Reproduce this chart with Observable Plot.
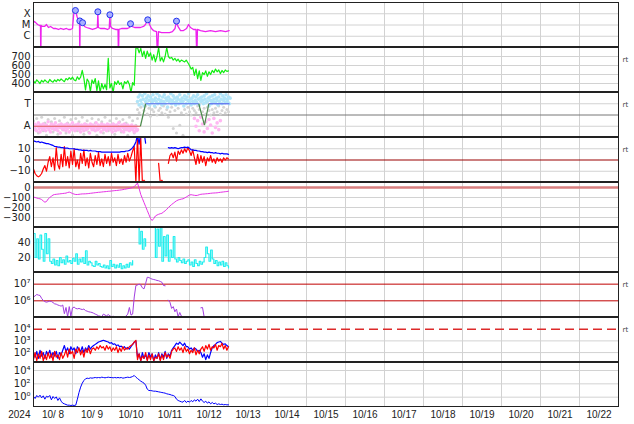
<!DOCTYPE html>
<html><head><meta charset="utf-8">
<script src="https://cdn.jsdelivr.net/npm/d3@7"></script>
<script src="https://cdn.jsdelivr.net/npm/@observablehq/plot@0.6"></script>
<style>
html,body{margin:0;padding:0;background:#fff;overflow:hidden;}
#chart svg{display:block;}
</style>
</head><body><div id="chart"></div>
<script>
// ---------- time axis ----------
const dateLabels = ["10/ 8","10/ 9","10/10","10/11","10/12","10/13","10/14","10/15","10/16","10/17","10/18","10/19","10/20","10/21","10/22"];
const yearLabel = "2024";

// ---------- panel 1: X-ray flux [hour since 10/8 00UT, W/m2] ----------
const xrayClassLevels = [1e-6, 1e-5, 1e-4];
const xrayClassNames = ["C", "M", "X"];
const xray = [[0,2.2e-5],[1.2,1.7e-5],[2.5,1.1e-5],[3.7,9e-6],[4.3,9e-6],[4.5,1e-8],[4.7,9e-6],[5.5,7.4e-6],[6.8,7.4e-6],[8,1.1e-5],[9.2,6e-6],[10.5,7.4e-6],[12.3,4.9e-6],[13.5,4.9e-6],[15.4,4e-6],[16.6,4.9e-6],[18.5,4e-6],[20.3,4.9e-6],[21.5,4e-6],[22.8,4e-6],[24,4.9e-6],[24.9,1.6e-4],[25.8,1.95e-4],[26.8,5.7e-5],[27.7,2.5e-5],[28.3,2e-5],[28.5,1e-8],[28.7,2e-5],[29.5,1.7e-5],[30.5,1.1e-5],[31.4,7.4e-6],[32.6,6e-6],[34.5,4.9e-6],[36.3,4e-6],[38.2,4.9e-6],[39.3,6e-6],[39.6,1.5e-4],[39.9,6e-6],[41.2,4.9e-6],[43.7,4.9e-6],[45.5,4e-6],[46.6,4.9e-6],[47,8.1e-5],[47.4,7.4e-6],[48.6,4.9e-6],[50.5,4e-6],[52,4e-6],[52.3,1e-8],[52.6,4e-6],[54.2,4.9e-6],[56,4.9e-6],[57.8,4.9e-6],[59.1,6e-6],[59.7,1.3e-5],[60.6,7.4e-6],[62.2,6e-6],[64,6e-6],[65.8,6e-6],[67.7,7.4e-6],[68.9,1.1e-5],[70.3,2.9e-5],[71.4,1.1e-5],[72.6,4.9e-6],[73.8,3.2e-6],[75.7,2.6e-6],[76.3,1e-8],[76.9,2.6e-6],[78.8,2.1e-6],[81.2,2.1e-6],[83.7,2.1e-6],[85.5,2.6e-6],[87.1,4.9e-6],[88,2.2e-5],[88.9,7.4e-6],[90.5,3.2e-6],[92.3,3.2e-6],[94.2,4.9e-6],[95.4,1.1e-5],[96.6,6e-6],[98.5,4e-6],[100,4e-6],[100.5,1e-8],[100.9,4e-6],[102.8,3.2e-6],[105.8,2.6e-6],[108.9,3.2e-6],[112,2.6e-6],[115.1,3.2e-6],[118.2,2.6e-6],[120.4,3.2e-6]];
const flares = [[25.8,1.95e-4],[28.5,2.3e-5],[30.2,1.6e-5],[39.6,1.5e-4],[47,8.1e-5],[59.7,1.3e-5],[70.3,2.9e-5],[88,2.2e-5]];

// ---------- panel 2: solar wind speed, hourly from 0h ----------
const speedTicks = [400, 500, 600, 700];
const speed = [430,405,440,420,400,435,415,440,420,410, 445,425,415,440,420,445,430,450,435,420, 455,440,465,445,470,440,430,475,445,470,
 545,460,330,450,420,310,440,400,455,320, 430,300,400,340,390,330,680,350,400,300, 420,390,430,390,410,340,420,400,430,390, 300,410,380,
 790,800,740,790,700,760,680,760,700,740, 660,720,640,700,800,650,690,640,700,800, 700,680,690,660,680,650,670,640,660,650, 640,660,630,600,560,580,490,560,455,540, 435,520,500,540,480,530,500,545,520,560, 530,550,510,545,520,550,535,540];

// ---------- panel 3: IMF sector (T = toward = 1, A = away = -1) ----------
const sectorTicks = [1, -1];
const sectorNames = ["T", "A"];
const sectorAway = [-1.1,-0.8,-1.3,-0.9,-1.4,-1.0,-0.7,-1.2,-1.5,-0.9,-1.1,-1.3,-0.8,-1.2,-1.0,-1.4,-0.9,-1.1,-0.6,-1.3,
 -1.0,-1.5,-0.8,-1.2,-1.1,-0.9,-1.3,-0.7,-1.2,-1.0,-1.4,-0.9,-1.1,-1.6,-0.8,-1.2,-1.0,-1.3,-0.9,-1.1,
 -1.4,-0.8,-1.2,-1.0,-1.5,-0.9,-1.1,-1.3,-0.7,-1.2,-1.0,-1.4,-0.9,-1.2,-1.1,-0.8,-1.3,-1.0,-1.5,-0.9,
 -1.2,-1.0,-1.4,-0.8,-1.1,-1.3,-0.9,-1.2,-1.0,-1.6,-0.8,-1.1,-1.3,-0.9,-1.2,-1.0,-1.4,-0.7,-1.1,-1.3,
 -0.9,-1.2,-1.0,-1.5,-0.8,-1.1,-1.3,-0.9,-1.2,-1.0,-1.4,-0.8,-1.2,-1.1,-0.9,-1.3,-1.0,-1.5,-0.8,-1.2,
 -1.0,-1.4,-0.9,-1.1,-1.3,-0.7,-1.2,-1.0,-1.4,-0.9,-1.1,-1.5,-0.8,-1.2,-1.0,-1.3,-0.9,-1.1,-1.4,-1.0,
 -1.2,-0.9,-1.3,-1.1,-1.5,-1.0,-1.2,-1.4,-1.3]; // every 0.5 h from 0 h
const sectorOtherEarly = [-0.5,-1.2,-0.3,-1.6,-0.9,-0.2,-1.4,-0.7,-1.8,-0.4,-1.1,-0.6,-1.5,-0.3,-1.0,-1.7,-0.5,-0.8,-1.3,-0.2,
 -1.6,-0.7,-1.1,-0.4,-1.8,-0.9,-0.3,-1.4,-0.6,-1.2,-0.2,-1.7,-0.8,-0.5,-1.5,-1.0,-0.3,-1.3,-0.7,-1.8,
 -0.4,-1.1,-0.6,-1.6,-0.2,-0.9,-1.4,-0.5,-1.2,-0.8,-1.7,-0.3,-1.0,-0.6,-1.5,-0.4,-1.3,-0.7,-1.8,-0.2,
 -1.1,-0.5,-1.6,-0.9,-0.3]; // hourly from 0 h
const sectorToward = [1.2,1.6,0.9,1.8,1.3,1.0,1.7,1.4,0.8,1.9,1.2,1.5,1.0,1.7,1.3,0.9,1.6,1.4,1.1,1.8,
 1.3,0.8,1.5,1.2,1.9,1.0,1.4,1.7,1.1,1.3,0.9,1.6,1.2,1.8,1.0,1.5,1.3,0.7,1.6,1.2,
 1.4,1.9,1.0,1.3,1.7,1.1,1.5,0.9,1.2,1.6,1.4,1.0,1.8,1.3,1.1,1.5,1.2,0.8,1.7,1.4,
 1.0,1.6,1.3,1.9,1.1,1.4,0.9,1.5,1.2,1.7,1.0,1.3,1.6,1.1,1.8,1.4,0.9,1.5,1.2,1.6,
 1.3,1.0,1.7,1.4,1.1,1.9,1.2,1.5,0.8,1.6,1.3,1.0,1.7,1.2,1.4,1.8,1.1,1.5,1.3,0.9,
 1.6,1.2,1.9,1.4,1.0,1.7,1.3,1.5,1.1,1.8,1.4,1.2,1.6,1.0,1.5]; // every 0.5 h from 64 h
const sectorOtherLate = [0.5,0.2,0.7,0.0,0.4,0.8,0.1,0.6,-0.1,0.5,0.3,0.7,0.0,0.4,0.6,0.2,0.8,0.1,0.5,-0.2,
 0.3,0.7,-1.2,0.4,-1.6,0.6,-0.9,0.2,-1.8,0.5,0.1,0.7,0.3,0.0,0.6,0.4,0.2,0.8,0.5,-0.1,
 0.3,0.6,0.1,0.7,0.4,0.0,0.5,0.2,0.6,0.3,0.8,0.1,0.4,0.7,0.2,0.5,0.3]; // hourly from 64 h
const sectorAwayLate = [-0.3,-1.0,-0.5,-1.4,-0.2,-0.8,-1.5,-0.6,-1.2,-0.4,-0.9,-1.6,-0.3,-1.1,-0.7,-1.3,-0.5]; // hourly from 99 h
const sectorPolarity = [[0,-1,65.8,-1,"A"],[65.8,-1,69,1,"X"],[69,1,101.7,1,"T"],[101.7,1,105.2,-0.9,"X"],[105.2,-0.9,107.9,1,"X"],[107.9,1,120.6,1,"T"]];

// ---------- panel 4: IMF Bt / Bz [nT], hourly ----------
const bTicks = [10, 0, -10];
const bt = [17,16.5,16,16.5,15.5,16,15.5,15,14.5,14.5, 14,13.5,13,12,12,11.5,11.5,11,11,10.5, 10.5,10.5,10,10,10,10,9.5,9.5,9,9, 8.5,8.5,8.5,8.5,8,8.5,8,8,8,7.5, 7.5,7.5,7,7,7,7,7,7,7,7, 7,7,7,7,7.5,7.5,7.5,8,8,8.5, 9.5,11,13,16,22,14,25,22,25,15,
 null,null,null,null,null,null,null,null,null,null,null,null,null,
 11,10.5,11,10.5,11,10.5,10,10.5,11,11, 11.5,11,11.5,10.5,9,9,8.5,8.5,8,8, 7.5,7.5,7,7,6.5,7,6.5,6.5,6,6.5, 6,6,5.5,6,5.5,5.5,5.5,5];
const bz = [-8,-12,-14,-15,-14,-12,-8,-5,-10,-2, 3,-6,2,-9,11,-4,-8,5,-6,12, -5,3,-7,8,-4,10,-6,0,-8,6, -3,9,-5,2,-7,6,-2,-6,4,-4, 7,-5,1,-6,5,-3,3,-5,6,-2, 2,-5,5,-3,1,-4,4,-2,6,-1, 3,8,
 12,-20,22,-20,20,-20,-18,-20,
 null,null,null,null,null,null,null,
 -3,-20,-18,-20, null,null,
 -3,4,6,2,7,-1,8,5,9,6, 10,7,11,8,4,9,2,-4,5,-3, 4,-2,3,-5,2,-1,4,-2,1,-3, 2,-1,1,-2,2,0,2,1];

// ---------- panel 5: Dst [nT], hourly ----------
const dstTicks = [0, -100, -200, -300];
const dst = [-95,-100,-105,-110,-113,-120,-135,-147,-140,-115, -100,-88,-75,-70,-68,-66,-64,-62,-60,-58,
 -56,-50,-46,-52,-60,-66,-70,-70,-68,-66, -64,-64,-63,-62,-60,-58,-56,-54,-52,-50,
 -48,-47,-45,-43,-42,-40,-38,-37,-35,-33, -31,-30,-28,-26,-24,-21,-18,-15,-12,-9,
 -5,0,10,25,45,-10,-70,-110,-150,-190, -230,-270,-310,-330,-310,-285,-275,-268,-262,-258,
 -245,-233,-218,-200,-185,-170,-158,-145,-133,-125, -120,-116,-113,-105,-95,-85,-75,-72,-75,-78,
 -80,-78,-72,-68,-66,-65,-63,-62,-60,-58, -56,-55,-54,-53,-50,-48,-46,-44,-42,-40,-37];

// ---------- panel 6: hourly ----------
const p6Ticks = [20, 40];
const p6 = [52,20,45,18,50,31,15,52,25,45,15,
 12,18,10,16,9,20,13,17,11,22,14,16,12,19,15,25,11,18,14,20,12,29,10,15,13,9,
 8,15,10,12,8,
 7,10,6,9,5,16,8,11,6,10,7,12,5,9,6,11,7,13,10,16,
 null,null,
 60,38,55,31,45,35,
 null,null,null,null,
 60,20,58,35,60,15,48,
 22,50,15,30,20,48,
 18,14,20,16,13,18,12,15,17,
 10,14,8,17,12,9,15,11,14,
 20,34,25,15,30,18,
 12,16,9,14,10,15,8,13,9,6];

// ---------- panel 7: electron flux, hourly ----------
const p7Ticks = [1e6, 1e7];
const electron = [1.66e6,2e6,2.4e6,2.2e6,2.1e6,1.4e6,1.05e6,8.9e5,8.3e5,8.9e5, 9.5e5,9.1e5,7.9e5,6.6e5,6.3e5,5.6e5,5.2e5,4.8e5,5.6e5,
 1.7e5,4e5,1.1e5,4.5e5,1.2e5,3.8e5,4.2e5,3.5e5,3.3e5,3.5e5, 3.2e5,3e5,3.2e5,2.6e5,2.4e5,2.2e5,2.1e5,2e5,1.8e5,1.6e5, 1.45e5,1.26e5,1.2e5,1.1e5,1.6e5,1.4e5,1.26e5,1.5e5,1.26e5,1.1e5, 1.2e5,1.07e5,1.1e5,
 null,null,null,null,null,
 1.26e5,1.6e5,4e5,1.4e5,1.6e5,1.7e6,8.3e6,8.9e6,1e7,9e6, 6e6,5.2e6,1.1e7,2.6e7,2.5e7,2.2e7,2e7,1.9e7,1.8e7,1.66e7, 1.6e7,1.45e7,1.3e7,8.3e6,8e6,
 null,
 1.1e6,8e5,3.5e5,4.5e5,2.2e5,3.2e5,1.1e5,2e5,1.2e5,1.1e5,
 null,null,null,null,null,null,null,null,null,null,
 3.8e5,4e5,1.1e5,1e5,1e5,1e5];

// ---------- panel 8: hourly ----------
const p8Ticks = [1e2, 1e3, 1e4];
const p8Blue = [100,40,126,32,158,50,100,32,126,63,158,40,100,50,126,32,100,63,158,
 398,126,251,79,316,158,251,79,316,200,126,316,100,251,158,398,200,316,
 398,501,631,794,891,1000,1120,1000,891,
 794,631,708,501,562,398,447,316,355,251,316,200,282,200,316,
 501,794,1000,
 40,79,20,100,32,63,25,100,40,79,20,63,32,100,25,79,40,126,32,79,50,158,251,
 398,631,501,794,562,398,631,316,
 316,200,251,158,251,200,126,158,100,
 40,79,25,63,32,100,251,
 398,501,708,794,891,631,501,562,398,316];
const p8Red = [25,100,20,79,32,126,20,63,25,100,32,79,20,126,40,63,25,100,32,
 63,158,40,200,79,126,32,200,100,251,63,158,40,200,100,251,79,200,
 251,158,316,200,398,251,316,158,398,200,316,126,251,158,316,100,251,126,316,158,251,200,316,398,
 501,794,1120,
 25,79,20,50,32,100,20,63,25,79,20,40,32,79,20,63,25,100,40,63,32,126,200,
 251,126,316,158,251,100,316,126,200,79,158,100,251,63,158,79,200,
 316,126,398,200,501,158,316,
 251,501,158,398,316,631,200,398,158,316];

// ---------- panel 9: proton flux, hourly ----------
const p9Ticks = [1, 1e2, 1e4];
const proton = [1.26,0.63,1.8,1,2,0.79,1.6,0.5,1.4,1,1.8,0.4,1.26,0.63,1.1,0.32,0.79,0.25,
 0.126,0.1,0.079,0.063,0.063,0.056,0.063,0.056,0.063,
 0.5,5,32,126,316,562,708,631,794,708,794,
 891,794,891,794,1000,891,794,891,1000,891,891,794,891,794,891,794,891,708,794,891,1000,891,1000,
 1260,1780,1000,631,398,251,178,126,63,16,
 10,10,8.9,7.9,7.9,7.1,6.3,5.6,5,4.5,4,3.2,2.8,2.5,2,1.8,1.26,
 0.5,0.32,0.25,0.2,0.18,0.32,0.16,0.25,0.18,0.32,0.2,0.4,0.25,0.5,0.22,0.56,0.25,
 0.16,0.25,0.126,0.2,0.1,0.16,0.1,0.126,0.079,0.1,0.079,0.089,0.071,0.079,0.071,0.071];

// ---------- helpers ----------
const T0 = Date.UTC(2024, 9, 8);
const HOUR = 3600e3;
const at = h => new Date(T0 + h * HOUR);
const series = (start, step, values) => values.map((v, i) => ({t: at(start + i * step), v}));
const pairs = arr => arr.map(([h, v]) => ({t: at(h), v}));
const xDomain = [at(0), at(15 * 24)];
const dayBoundaries = dateLabels.slice(1).map((_, i) => at(24 * (i + 1)));
const dayLabelData = dateLabels.map((s, i) => ({t: at(24 * i + 12), s}));
const SUP = {"-": "⁻", "0": "⁰", "1": "¹", "2": "²", "3": "³", "4": "⁴", "5": "⁵", "6": "⁶", "7": "⁷", "8": "⁸", "9": "⁹"};
const pow10 = d => "10" + String(Math.round(Math.log10(d))).split("").map(c => SUP[c]).join("");

const INK = "#222";
const GRID = "#d2d2d2";
const FONT = "'DejaVu Sans', sans-serif";

function panel({height, marginTop = 0, marginBottom = 0, y, grid, marks, rt = false, topWidth = 1, extra = []}) {
  const [y0, y1] = y.domain;
  return Plot.plot({
    width: 634, height, marginLeft: 33, marginRight: 16, marginTop, marginBottom,
    style: {fontFamily: FONT, fontSize: "10px", color: INK, background: "white"},
    x: {type: "utc", domain: xDomain, axis: null},
    y: {label: null, tickSize: 0, tickPadding: 3, ...y},
    marks: [
      Plot.ruleX(dayBoundaries, {stroke: GRID}),
      Plot.ruleY(grid, {stroke: GRID}),
      ...marks,
      Plot.ruleX([xDomain[0], xDomain[1]], {stroke: INK}),
      Plot.ruleY([y1], {stroke: INK, strokeWidth: topWidth}),
      Plot.ruleY([y0], {stroke: INK, dy: -1}),
      ...(rt ? [Plot.text(["rt"], {text: d => d, frameAnchor: "top-right", dx: 4, dy: 9.5, textAnchor: "start", fontSize: 7, fill: "#444"})] : []),
      ...extra
    ]
  });
}

const chart = document.getElementById("chart");

// 1 X-ray
chart.append(panel({
  height: 47, marginTop: 2,
  y: {type: "log", domain: [1e-7, 1e-3], ticks: xrayClassLevels, tickFormat: d => xrayClassNames[xrayClassLevels.indexOf(d)] ?? ""},
  grid: xrayClassLevels,
  marks: [
    Plot.line(pairs(xray), {x: "t", y: "v", stroke: "#ee22ee", strokeWidth: 1.3, clip: true}),
    Plot.dot(pairs(flares), {x: "t", y: "v", r: 3, fill: "#a8b0ff", stroke: "#2233ee", strokeWidth: 1})
  ]
}));

// 2 speed
chart.append(panel({
  height: 45,
  y: {domain: [300, 800], ticks: speedTicks},
  grid: speedTicks, rt: true,
  marks: [Plot.line(series(0, 1, speed), {x: "t", y: "v", stroke: "#11ee11", strokeWidth: 1.2, clip: true})]
}));

// 3 sector
chart.append(panel({
  height: 45,
  y: {domain: [-2, 2], ticks: sectorTicks, tickFormat: d => sectorNames[sectorTicks.indexOf(d)] ?? ""},
  grid: sectorTicks, rt: true,
  marks: [
    Plot.ruleY([0], {stroke: "#777"}),
    Plot.dot(series(0, 1, sectorOtherEarly), {x: "t", y: "v", r: 1.5, fill: "#d4d4d4", clip: true}),
    Plot.dot(series(64, 1, sectorOtherLate), {x: "t", y: "v", r: 1.5, fill: "#d4d4d4", clip: true}),
    Plot.dot(series(0, 0.5, sectorAway), {x: "t", y: "v", r: 1.8, fill: "#ffb8f2", clip: true}),
    Plot.dot(series(99, 1, sectorAwayLate), {x: "t", y: "v", r: 1.8, fill: "#ffb8f2", clip: true}),
    Plot.dot(series(64, 0.5, sectorToward), {x: "t", y: "v", r: 1.8, fill: "#b0e4f8", clip: true}),
    ...[["A", "#e05a5a"], ["T", "#5a6cf0"], ["X", "#4a8a4a"]].map(([k, c]) =>
      Plot.link(sectorPolarity.filter(d => d[4] === k), {x1: d => at(d[0]), y1: d => d[1], x2: d => at(d[2]), y2: d => d[3], stroke: c, strokeWidth: 1.2}))
  ]
}));

// 4 Bt / Bz
chart.append(panel({
  height: 45,
  y: {domain: [-20, 20], ticks: bTicks},
  grid: [10, -10], rt: true,
  marks: [
    Plot.ruleY([0], {stroke: "#990000"}),
    Plot.line(series(0, 1, bz), {x: "t", y: "v", stroke: "#ff0000", strokeWidth: 1.2, clip: true}),
    Plot.line(series(0, 1, bt), {x: "t", y: "v", stroke: "#0000ff", strokeWidth: 1.2, clip: true})
  ]
}));

// 5 Dst
chart.append(panel({
  height: 45,
  y: {domain: [-400, 50], ticks: dstTicks},
  grid: [-100, -200, -300],
  marks: [
    Plot.ruleY([0], {stroke: "#d98080", strokeWidth: 2.5}),
    Plot.line(series(0, 1, dst), {x: "t", y: "v", stroke: "#e633e6", strokeWidth: 1, clip: true})
  ]
}));

// 6
chart.append(panel({
  height: 45,
  y: {domain: [0, 60], ticks: p6Ticks},
  grid: p6Ticks,
  marks: [Plot.line(series(0, 1, p6), {x: "t", y: "v", stroke: "#22eeee", strokeWidth: 1.2, curve: "step-after", clip: true})]
}));

// 7 electrons
chart.append(panel({
  height: 45,
  y: {type: "log", domain: [1e5, 5e7], ticks: p7Ticks, tickFormat: pow10},
  grid: [], rt: true,
  marks: [
    Plot.ruleY(p7Ticks, {stroke: "#c00000"}),
    Plot.line(series(0, 1, electron), {x: "t", y: "v", stroke: "#a23ee0", strokeWidth: 1, clip: true})
  ]
}));

// 8
chart.append(panel({
  height: 45,
  y: {type: "log", domain: [Math.pow(10, 1.15), 1e5], ticks: p8Ticks, tickFormat: pow10},
  grid: [1e2, 1e3], rt: true,
  marks: [
    Plot.ruleY([1e4], {stroke: "#dd2a2a", strokeWidth: 1.5, strokeDasharray: "9,5"}),
    Plot.line(series(0, 1, p8Blue), {x: "t", y: "v", stroke: "#0000ff", strokeWidth: 1.2, clip: true}),
    Plot.line(series(0, 1, p8Red), {x: "t", y: "v", stroke: "#ff0000", strokeWidth: 1.2, clip: true})
  ]
}));

// 9 protons + time labels
chart.append(panel({
  height: 62, marginBottom: 17,
  y: {type: "log", domain: [Math.pow(10, -1.55), Math.pow(10, 5.2)], ticks: p9Ticks, tickFormat: pow10},
  grid: p9Ticks,
  marks: [Plot.line(series(0, 1, proton), {x: "t", y: "v", stroke: "#0000ff", strokeWidth: 1, clip: true})],
  extra: [
    Plot.text(dayLabelData, {x: "t", text: "s", frameAnchor: "bottom", dy: 10, fontSize: 10, fontFamily: "'Liberation Sans', sans-serif", fill: INK}),
    Plot.text([{t: xDomain[0], s: yearLabel}], {x: "t", text: "s", frameAnchor: "bottom", dy: 10, dx: -3, textAnchor: "end", fontSize: 10, fontFamily: "'Liberation Sans', sans-serif", fill: INK})
  ]
}));
</script>
</body></html>
